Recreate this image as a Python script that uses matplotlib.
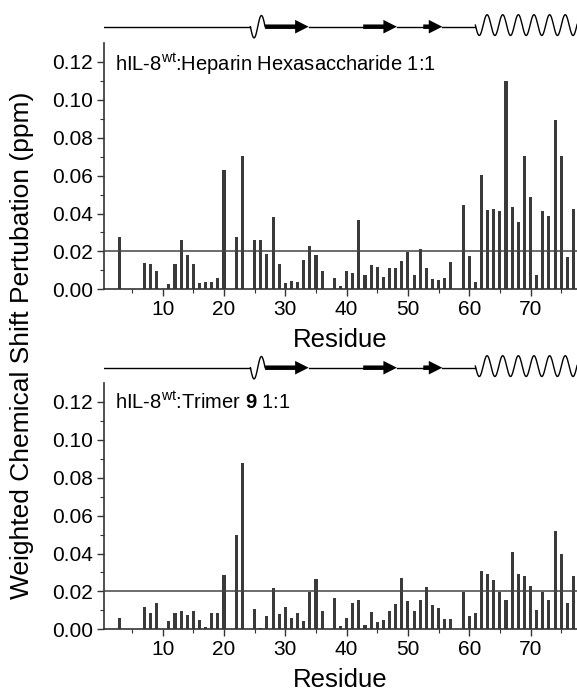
import numpy as np
import matplotlib
matplotlib.use('Agg')
import matplotlib.pyplot as plt
from matplotlib.patches import FancyArrow

plt.rcParams['font.family'] = ['Liberation Sans', 'DejaVu Sans']
plt.rcParams['mathtext.fontset'] = 'custom'
plt.rcParams['mathtext.rm'] = 'Liberation Sans'
plt.rcParams['mathtext.bf'] = 'Liberation Sans:bold'

# residues with data (1,2,4,5,6,10,21,24,37,58 missing)
residues = [3, 7, 8, 9, 11, 12, 13, 14, 15, 16, 17, 18, 19, 20, 22, 23, 25, 26,
            27, 28, 29, 30, 31, 32, 33, 34, 35, 36, 38, 39, 40, 41, 42, 43, 44,
            45, 46, 47, 48, 49, 50, 51, 52, 53, 54, 55, 56, 57, 59, 60, 61, 62,
            63, 64, 65, 66, 67, 68, 69, 70, 71, 72, 73, 74, 75, 76, 77]

heparin = [0.0274, 0.0137, 0.0131, 0.0098, 0.0029, 0.0132, 0.0262, 0.0182,
           0.0131, 0.0035, 0.0038, 0.0038, 0.0058, 0.0630, 0.0278, 0.0702,
           0.0260, 0.0260, 0.0185, 0.0380, 0.0132, 0.0035, 0.0044, 0.0037,
           0.0155, 0.0226, 0.0182, 0.0094, 0.0058, 0.0018, 0.0097, 0.0088,
           0.0365, 0.0074, 0.0129, 0.0116, 0.0067, 0.0110, 0.0110, 0.0152,
           0.0198, 0.0076, 0.0215, 0.0110, 0.0053, 0.0050, 0.0060, 0.0143,
           0.0446, 0.0175, 0.0040, 0.0602, 0.0418, 0.0424, 0.0415, 0.1100,
           0.0432, 0.0353, 0.0704, 0.0485, 0.0074, 0.0415, 0.0388, 0.0893,
           0.0704, 0.0168, 0.0424]

trimer = [0.0060, 0.0116, 0.0086, 0.0138, 0.0046, 0.0086, 0.0099, 0.0076,
          0.0094, 0.0051, 0.0012, 0.0086, 0.0086, 0.0289, 0.0498, 0.0879,
          0.0109, 0.0009, 0.0072, 0.0220, 0.0079, 0.0120, 0.0060, 0.0086,
          0.0046, 0.0199, 0.0265, 0.0094, 0.0164, 0.0018, 0.0062, 0.0138,
          0.0157, 0.0023, 0.0092, 0.0039, 0.0051, 0.0099, 0.0132, 0.0272,
          0.0150, 0.0095, 0.0157, 0.0224, 0.0129, 0.0111, 0.0055, 0.0055,
          0.0199, 0.0072, 0.0085, 0.0310, 0.0293, 0.0259, 0.0199, 0.0155,
          0.0406, 0.0293, 0.0282, 0.0231, 0.0102, 0.0199, 0.0155, 0.0519,
          0.0397, 0.0139, 0.0282]

threshold = 0.02
titles = [r'hIL-8$^{\mathrm{wt}}$:Heparin Hexasaccharide 1:1',
          r'hIL-8$^{\mathrm{wt}}$:Trimer $\mathbf{9}$ 1:1']

# secondary structure (residue ranges)
turn = (24.3, 26.7)
strands = [(26.7, 33.8), (42.7, 48.2), (52.5, 55.6)]
helix = (61.0, 77.6)

W, H = 577, 691
fig = plt.figure(figsize=(W / 100, H / 100), dpi=100)

xl = (0.42, 77.58)
dark = '#333333'


def draw_structure(ax):
    ax.set_xlim(*xl)
    ax.set_ylim(-1, 1)
    ax.axis('off')
    # backbone line
    ax.plot([xl[0], turn[0]], [0, 0], color='black', lw=1)
    t = np.linspace(turn[0], turn[1], 60)
    ax.plot(t, -0.7 * np.sin(2 * np.pi * (t - turn[0]) / (turn[1] - turn[0])),
            color='black', lw=1)
    prev = turn[1]
    for s, e in strands:
        ax.plot([prev, s], [0, 0], color='black', lw=1)
        L = e - s
        head = min(2.2, L * 0.75)
        ax.add_patch(FancyArrow(s, 0, L, 0, width=0.28, head_width=0.85,
                                head_length=head, length_includes_head=True,
                                color='black', lw=0))
        prev = e
    ax.plot([prev, helix[0]], [0, 0], color='black', lw=1)
    h = np.linspace(helix[0], helix[1], 400)
    ax.plot(h, 0.1 - 0.65 * np.sin(2 * np.pi * (h - helix[0]) / 2.55),
            color='black', lw=1, clip_on=False)


panels = [(heparin, 1 - 289.3 / H, 1 - 43 / H, 26.7),
          (trimer, 1 - 629.3 / H, 1 - 383 / H, 367.7)]

left = 104 / W
for i, (vals, b, t, liney) in enumerate(panels):
    ax = fig.add_axes([left, b, 1 - left, t - b])
    ax.bar(residues, vals, width=0.5, color='#3a3a3a', zorder=2)
    ax.axhline(threshold, color='#444444', lw=1.1, zorder=3)
    ax.set_xlim(*xl)
    ax.set_ylim(0, 0.13)
    ax.set_xticks([10, 20, 30, 40, 50, 60, 70])
    ax.set_xticks(np.arange(5, 80, 5), minor=True)
    ax.set_yticks(np.arange(0, 0.121, 0.02))
    ax.set_yticks(np.arange(0, 0.125, 0.01), minor=True)
    ax.yaxis.set_major_formatter(matplotlib.ticker.FormatStrFormatter('%.2f'))
    for side in ['top', 'right']:
        ax.spines[side].set_visible(False)
    for side in ['left', 'bottom']:
        ax.spines[side].set_color(dark)
        ax.spines[side].set_linewidth(1.2)
    ax.tick_params(which='major', direction='out', length=5, width=1,
                   color=dark, labelsize=15, pad=3)
    ax.tick_params(which='minor', direction='out', length=3, width=0.8,
                   color=dark)
    ax.set_xlabel('Residue', fontsize=18.5, labelpad=6)
    ax.text(0.023, 0.967, titles[i], transform=ax.transAxes, fontsize=14.5,
            va='top', ha='left')

    sax = fig.add_axes([left, 1 - (liney + 16) / H, 1 - left, 32 / H])
    draw_structure(sax)

fig.text(22 / W, 1 - 345 / H, 'Weighted Chemical Shift Pertubation (ppm)',
         rotation=90, fontsize=19, ha='center', va='center')

fig.savefig('out.png', dpi=100)
